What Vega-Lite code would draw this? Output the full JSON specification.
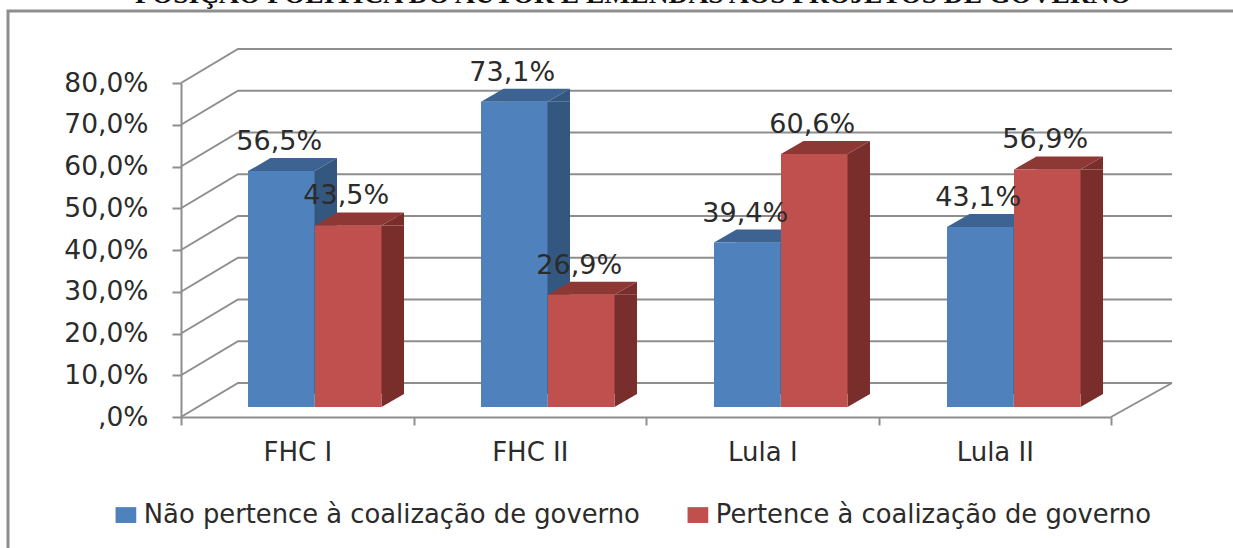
{"$schema":"https://vega.github.io/schema/vega-lite/v6.json","width":930,"height":334,"autosize":"none","padding":{"left":181,"top":83,"right":122,"bottom":131},"background":"white","config":{"view":{"stroke":null}},"title":{"text":"POSIÇÃO POLÍTICA DO AUTOR E EMENDAS AOS PROJETOS DE GOVERNO","font":"Liberation Serif","fontSize":27.5,"fontWeight":"bold","color":"#111111","anchor":"middle","frame":"group","offset":5,"dy":30,"dx":-13,"baseline":"alphabetic"},"datasets":{"barras":[{"periodo":"FHC I","serie":"Não pertence à coalização de governo","valor":56.5,"rotulo":"56,5%"},{"periodo":"FHC I","serie":"Pertence à coalização de governo","valor":43.5,"rotulo":"43,5%"},{"periodo":"FHC II","serie":"Não pertence à coalização de governo","valor":73.1,"rotulo":"73,1%"},{"periodo":"FHC II","serie":"Pertence à coalização de governo","valor":26.9,"rotulo":"26,9%"},{"periodo":"Lula I","serie":"Não pertence à coalização de governo","valor":39.4,"rotulo":"39,4%"},{"periodo":"Lula I","serie":"Pertence à coalização de governo","valor":60.6,"rotulo":"60,6%"},{"periodo":"Lula II","serie":"Não pertence à coalização de governo","valor":43.1,"rotulo":"43,1%"},{"periodo":"Lula II","serie":"Pertence à coalização de governo","valor":56.9,"rotulo":"56,9%"}],"grade":[{"nivel":0},{"nivel":10},{"nivel":20},{"nivel":30},{"nivel":40},{"nivel":50},{"nivel":60},{"nivel":70},{"nivel":80}],"base":[{"nivel":0}]},"resolve":{"scale":{"x":"independent"}},"layer":[
{"data":{"name":"base"},"mark":{"type":"point","shape":"M-173,140L-173,-406L1060,-406","size":4,"filled":false,"stroke":"#8e8e8e","strokeWidth":3,"opacity":1},"encoding":{"x":{"value":0},"y":{"field":"nivel","type":"quantitative","scale":{"domain":[0,80],"nice":false},"axis":{"title":null,"values":[0,10,20,30,40,50,60,70,80],"labelExpr":"datum.value==0?',0%':datum.value+',0%'","labelFont":"DejaVu Sans","labelFontSize":26.5,"labelColor":"#2b2b2b","labelPadding":24,"tickSize":9,"tickColor":"#8e8e8e","tickWidth":2,"domainColor":"#8e8e8e","domainWidth":2,"grid":false}}}},
{"data":{"name":"grade"},"mark":{"type":"point","shape":"M0,0L57,-34L991,-34","size":4,"filled":false,"stroke":"#8e8e8e","strokeWidth":2,"opacity":1},"encoding":{"x":{"value":0},"y":{"field":"nivel","type":"quantitative"}}},
{"data":{"name":"base"},"mark":{"type":"point","shape":"M930,0L991,-34","size":4,"filled":false,"stroke":"#8e8e8e","strokeWidth":2,"opacity":1},"encoding":{"x":{"value":0},"y":{"field":"nivel","type":"quantitative"}}},
{"data":{"name":"barras"},"mark":{"type":"bar","opacity":0},"encoding":{"x":{"field":"periodo","type":"nominal","sort":null,"scale":{"paddingInner":0,"paddingOuter":0},"axis":{"title":null,"labelAngle":0,"labelFont":"DejaVu Sans","labelFontSize":26,"labelColor":"#2b2b2b","tickBand":"extent","tickSize":8,"tickColor":"#8e8e8e","tickWidth":2,"domainColor":"#8e8e8e","domainWidth":2,"labelPadding":14,"grid":false}},"y":{"field":"valor","type":"quantitative","stack":null}}},

{"data":{"name":"barras"},"transform":[{"filter":"datum.serie==='Não pertence à coalização de governo'"}],"mark":{"type":"point","shape":"M33.25,0L33.25,-13L55.75,-13Z","size":4,"filled":true,"fill":"#34577f","strokeWidth":0,"opacity":1,"yOffset":-10},"encoding":{"x":{"field":"periodo","type":"nominal","sort":null,"axis":null,"scale":{"type":"band","range":[67,832.5],"paddingInner":0.7146,"paddingOuter":0}},"y":{"datum":0,"type":"quantitative"}}},
{"data":{"name":"barras"},"transform":[{"filter":"datum.serie==='Não pertence à coalização de governo'"}],"mark":{"type":"bar","fill":"#34577f","xOffset":22.5,"yOffset":-10,"y2Offset":-23},"encoding":{"x":{"field":"periodo","type":"nominal","sort":null,"axis":null,"scale":{"type":"band","range":[67,832.5],"paddingInner":0.7146,"paddingOuter":0}},"y":{"field":"valor","type":"quantitative","stack":null},"y2":{"datum":0}}},
{"data":{"name":"barras"},"transform":[{"filter":"datum.serie==='Não pertence à coalização de governo'"}],"mark":{"type":"point","shape":"M33.25,0L55.75,-13L55.75,0Z","size":4,"filled":true,"fill":"#34577f","strokeWidth":0,"opacity":1,"yOffset":-10},"encoding":{"x":{"field":"periodo","type":"nominal","sort":null,"axis":null,"scale":{"type":"band","range":[67,832.5],"paddingInner":0.7146,"paddingOuter":0}},"y":{"field":"valor","type":"quantitative"}}},
{"data":{"name":"barras"},"transform":[{"filter":"datum.serie==='Não pertence à coalização de governo'"}],"mark":{"type":"point","shape":"M-33.25,0L33.25,0L55.75,-13L-10.75,-13Z","size":4,"filled":true,"fill":"#3c6391","strokeWidth":0,"opacity":1,"yOffset":-10},"encoding":{"x":{"field":"periodo","type":"nominal","sort":null,"axis":null,"scale":{"type":"band","range":[67,832.5],"paddingInner":0.7146,"paddingOuter":0}},"y":{"field":"valor","type":"quantitative"}}},
{"data":{"name":"barras"},"transform":[{"filter":"datum.serie==='Não pertence à coalização de governo'"}],"mark":{"type":"bar","yOffset":-10,"y2Offset":-10},"encoding":{"x":{"field":"periodo","type":"nominal","sort":null,"axis":null,"scale":{"type":"band","range":[67,832.5],"paddingInner":0.7146,"paddingOuter":0}},"y":{"field":"valor","type":"quantitative","stack":null},"y2":{"datum":0},"color":{"field":"serie","type":"nominal","scale":{"domain":["Não pertence à coalização de governo","Pertence à coalização de governo"],"range":["#4f81bd","#c0504d"]},"legend":{"title":null,"orient":"none","legendX":-68,"legendY":419,"direction":"horizontal","columns":2,"columnPadding":45,"symbolType":"M-1.15,-0.88H1.15V0.88H-1.15Z","symbolSize":324,"symbolStrokeWidth":0,"labelFont":"DejaVu Sans","labelFontSize":25.8,"labelColor":"#2b2b2b","labelOffset":5,"labelLimit":600}}}},

{"data":{"name":"barras"},"transform":[{"filter":"datum.serie==='Pertence à coalização de governo'"}],"mark":{"type":"point","shape":"M33.25,0L33.25,-13L55.75,-13Z","size":4,"filled":true,"fill":"#7a2e2c","strokeWidth":0,"opacity":1,"yOffset":-10},"encoding":{"x":{"field":"periodo","type":"nominal","sort":null,"axis":null,"scale":{"type":"band","range":[134,899.5],"paddingInner":0.7146,"paddingOuter":0}},"y":{"datum":0,"type":"quantitative"}}},
{"data":{"name":"barras"},"transform":[{"filter":"datum.serie==='Pertence à coalização de governo'"}],"mark":{"type":"bar","fill":"#7a2e2c","xOffset":22.5,"yOffset":-10,"y2Offset":-23},"encoding":{"x":{"field":"periodo","type":"nominal","sort":null,"axis":null,"scale":{"type":"band","range":[134,899.5],"paddingInner":0.7146,"paddingOuter":0}},"y":{"field":"valor","type":"quantitative","stack":null},"y2":{"datum":0}}},
{"data":{"name":"barras"},"transform":[{"filter":"datum.serie==='Pertence à coalização de governo'"}],"mark":{"type":"point","shape":"M33.25,0L55.75,-13L55.75,0Z","size":4,"filled":true,"fill":"#7a2e2c","strokeWidth":0,"opacity":1,"yOffset":-10},"encoding":{"x":{"field":"periodo","type":"nominal","sort":null,"axis":null,"scale":{"type":"band","range":[134,899.5],"paddingInner":0.7146,"paddingOuter":0}},"y":{"field":"valor","type":"quantitative"}}},
{"data":{"name":"barras"},"transform":[{"filter":"datum.serie==='Pertence à coalização de governo'"}],"mark":{"type":"point","shape":"M-33.25,0L33.25,0L55.75,-13L-10.75,-13Z","size":4,"filled":true,"fill":"#8e3836","strokeWidth":0,"opacity":1,"yOffset":-10},"encoding":{"x":{"field":"periodo","type":"nominal","sort":null,"axis":null,"scale":{"type":"band","range":[134,899.5],"paddingInner":0.7146,"paddingOuter":0}},"y":{"field":"valor","type":"quantitative"}}},
{"data":{"name":"barras"},"transform":[{"filter":"datum.serie==='Pertence à coalização de governo'"}],"mark":{"type":"bar","yOffset":-10,"y2Offset":-10},"encoding":{"x":{"field":"periodo","type":"nominal","sort":null,"axis":null,"scale":{"type":"band","range":[134,899.5],"paddingInner":0.7146,"paddingOuter":0}},"y":{"field":"valor","type":"quantitative","stack":null},"y2":{"datum":0},"color":{"field":"serie","type":"nominal"}}},

{"data":{"name":"barras"},"transform":[{"filter":"datum.serie==='Não pertence à coalização de governo'"}],"mark":{"type":"text","font":"DejaVu Sans","fontSize":27,"color":"#2b2b2b","yOffset":-39,"xOffset":-2,"baseline":"middle"},"encoding":{"x":{"field":"periodo","type":"nominal","sort":null,"axis":null,"scale":{"type":"band","range":[67,832.5],"paddingInner":0.7146,"paddingOuter":0}},"y":{"field":"valor","type":"quantitative"},"text":{"field":"rotulo"}}},
{"data":{"name":"barras"},"transform":[{"filter":"datum.serie==='Pertence à coalização de governo'"}],"mark":{"type":"text","font":"DejaVu Sans","fontSize":27,"color":"#2b2b2b","yOffset":-39,"xOffset":-2,"baseline":"middle"},"encoding":{"x":{"field":"periodo","type":"nominal","sort":null,"axis":null,"scale":{"type":"band","range":[134,899.5],"paddingInner":0.7146,"paddingOuter":0}},"y":{"field":"valor","type":"quantitative"},"text":{"field":"rotulo"}}}
]}
